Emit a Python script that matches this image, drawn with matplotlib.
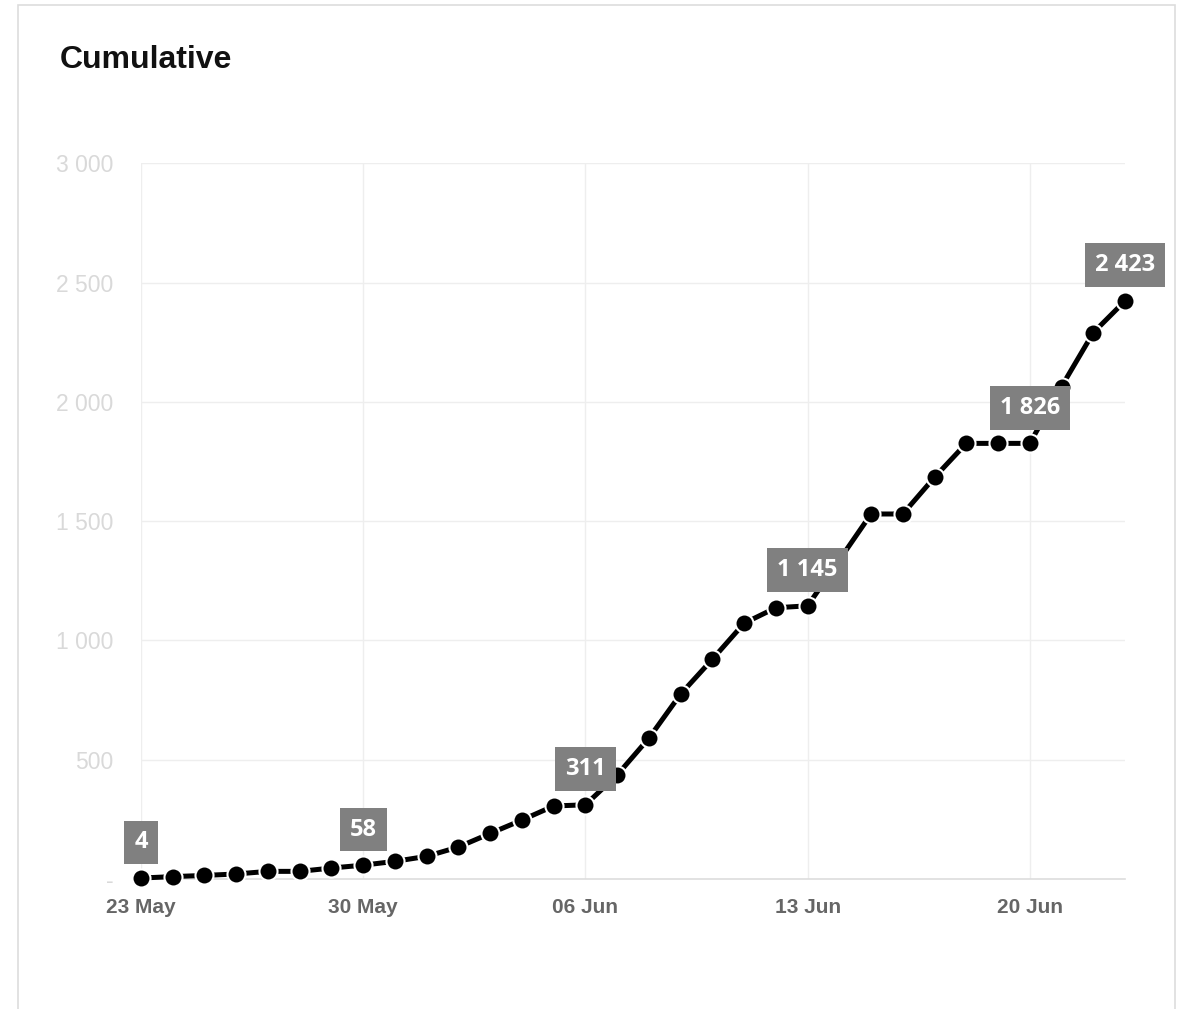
import pandas as pd
import matplotlib.pyplot as plt
from matplotlib.patches import Rectangle

# -----------------------------
# Data
# -----------------------------
dates = pd.date_range("2020-05-23", "2020-06-23", freq="D")
cumulative = [4, 10, 15, 21, 32, 32, 46, 58, 74, 95, 134, 191, 247, 306,
              311, 436, 590, 775, 921, 1072, 1137, 1145, 1337, 1530, 1530,
              1684, 1826, 1826, 1826, 2064, 2290, 2423]
label_idx = [0, 7, 14, 21, 28, 31]
label_text = ["4", "58", "311", "1 145", "1 826", "2 423"]

y_ticks = [0, 500, 1000, 1500, 2000, 2500, 3000]
y_tick_labels = ["-", "500", "1 000", "1 500", "2 000", "2 500", "3 000"]
x_ticks = pd.to_datetime(["2020-05-23", "2020-05-30", "2020-06-06",
                          "2020-06-13", "2020-06-20"])
x_tick_labels = ["23 May", "30 May", "06 Jun", "13 Jun", "20 Jun"]

# -----------------------------
# Figure
# -----------------------------
fig = plt.figure(figsize=(11.83, 10.09), dpi=100)
# light card border
fig.patches.append(Rectangle((18 / 1183, -0.01), (1175 - 18) / 1183, 1.0 - 5 / 1009 + 0.01,
                             transform=fig.transFigure, fill=False,
                             edgecolor="#dddddd", linewidth=1.2))

fig.text(60 / 1183, 1 - 68 / 1009, "Cumulative", fontsize=23, fontweight="bold",
         family="Liberation Sans", color="#111111", va="baseline")

ax = fig.add_axes([141 / 1183, 1 - 879 / 1009, (1125 - 141) / 1183, (879 - 163.3) / 1009])

ax.plot(dates, cumulative, color="black", linewidth=3.6, marker="o", markersize=13,
        markerfacecolor="black", markeredgecolor="white", markeredgewidth=1.5,
        clip_on=False, zorder=3)

# value boxes above selected points
for i, txt in zip(label_idx, label_text):
    ax.annotate(txt, xy=(dates[i], cumulative[i]), xytext=(0, 17),
                textcoords="offset points", ha="center", va="bottom",
                fontsize=17, fontweight="bold", family="Open Sans", color="white",
                bbox=dict(boxstyle="square,pad=0.42", facecolor="#808080", edgecolor="none"),
                zorder=5, annotation_clip=False)

ax.set_xlim(dates[0], dates[-1])
ax.set_ylim(0, 3000)
ax.set_yticks(y_ticks)
ax.set_yticklabels(y_tick_labels, fontsize=16.5, family="Liberation Sans", color="#d9d9d9")
ax.set_xticks(x_ticks)
ax.set_xticklabels(x_tick_labels, fontsize=15, fontweight="bold",
                   family="Liberation Sans", color="#666666")
ax.tick_params(length=0)
ax.tick_params(axis="x", pad=14)
ax.tick_params(axis="y", pad=20)

ax.grid(True, color="#eeeeee", linewidth=1)
for s in ["top", "right", "left"]:
    ax.spines[s].set_visible(False)
ax.spines["bottom"].set_color("#dddddd")
ax.spines["bottom"].set_linewidth(1.2)

plt.savefig("out.png", dpi=100)
plt.close()
